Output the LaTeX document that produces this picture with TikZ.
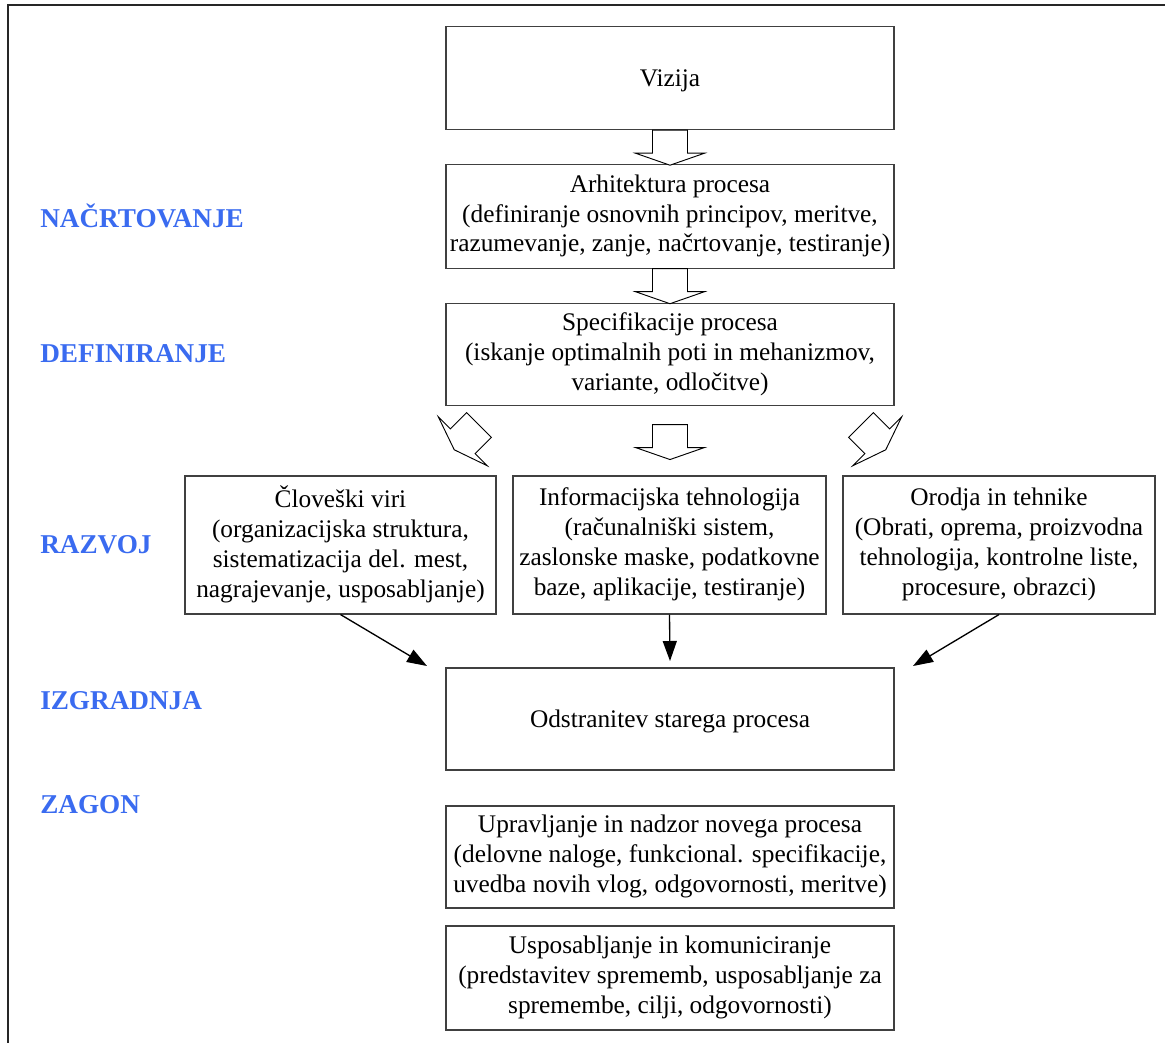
\documentclass[tikz,border=0pt]{standalone}
\usepackage{fontspec}
\setmainfont{Liberation Serif}
\usetikzlibrary{calc,arrows.meta}
\definecolor{phaseblue}{HTML}{3A6BF0}
\begin{document}
\begin{tikzpicture}[x=0.75pt,y=-0.75pt,
  box/.style={draw=black!75,line width=0.8pt,inner sep=0pt,align=center,
    font=\fontsize{19}{22.4}\selectfont,
    % even line boxes, so the text block sits centred like a word processor would
    execute at begin node={\rule{0pt}{17.5pt}},
    execute at end node={\rule[-4.9pt]{0pt}{4.9pt}}},
  wide/.style={box,minimum width=336pt},
  narrow/.style={box,minimum width=234pt,minimum height=103.5pt},
  phase/.style={anchor=west,inner sep=0pt,text=phaseblue,
    font=\fontsize{20.4}{24}\selectfont\bfseries},
  thin/.style={line width=1pt,-{Triangle[length=15pt,width=10.5pt]}},
  hollow/.style={draw=black,line width=0.7pt,fill=white,line join=miter},
  % block arrow pointing down, origin at the middle of its tail
  downarr/.pic={\draw[hollow] (-17.5,0) -- (17.5,0) -- (17.5,23) -- (34.5,23)
      -- (0,35) -- (-34.5,23) -- (-17.5,23) -- cycle;},
  % the same arrow turned to point down-left
  leftarr/.pic={\draw[hollow] (-12.37,-12.37) -- (12.37,12.37) -- (-3.89,28.64)
      -- (8.13,40.66) -- (-24.75,24.75) -- (-40.66,-8.13) -- (-28.64,3.89) -- cycle;},
  % and turned to point down-right
  rightarr/.pic={\draw[hollow] (12.37,-12.37) -- (-12.37,12.37) -- (3.89,28.64)
      -- (-8.13,40.66) -- (24.75,24.75) -- (40.66,-8.13) -- (28.64,3.89) -- cycle;}]
\useasboundingbox (0,0) rectangle (1165,1043);
% frame
\draw[line width=1.2pt,black!85] (8,1043) -- (8,5) -- (1165,5);

% main column
\node[wide,minimum height=77.5pt] (viz) at (670,78) {Vizija};
\node[wide,minimum height=77.5pt] (arh) at (670,216.5)
  {Arhitektura procesa\\(definiranje osnovnih principov, meritve,\\razumevanje, zanje, načrtovanje, testiranje)};
\node[wide,minimum height=76.5pt] (spec) at (670,354.5)
  {Specifikacije procesa\\(iskanje optimalnih poti in mehanizmov,\\variante, odločitve)};

% three development areas
\node[narrow,minimum width=233.25pt] (clov) at (340.5,545)
  {Človeški viri\\(organizacijska struktura,\\sistematizacija del. mest,\\nagrajevanje, usposabljanje)};
\node[narrow,minimum width=234.75pt] (info) at (669.5,545)
  {Informacijska tehnologija\\(računalniški sistem,\\zaslonske maske, podatkovne\\baze, aplikacije, testiranje)};
\node[narrow] (orod) at (999,545)
  {Orodja in tehnike\\(Obrati, oprema, proizvodna\\tehnologija, kontrolne liste,\\procesure, obrazci)};

\node[wide,minimum height=76.5pt] (odst) at (670,719) {Odstranitev starega procesa};
\node[wide,minimum height=76.5pt] (upr) at (670,857)
  {Upravljanje in nadzor novega procesa\\(delovne naloge, funkcional. specifikacije,\\uvedba novih vlog, odgovornosti, meritve)};
\node[wide,minimum height=78pt] (usp) at (670,978)
  {Usposabljanje in komuniciranje\\(predstavitev sprememb, usposabljanje za\\spremembe, cilji, odgovornosti)};

% phase labels
\node[phase] (p1) at (40,216) {NAČRTOVANJE};
\node[phase] (p2) at (40,354) {DEFINIRANJE};
\node[phase] (p3) at (40,545) {RAZVOJ};
\node[phase] (p4) at (40,701) {IZGRADNJA};
\node[phase] (p5) at (40,805) {ZAGON};

% hollow block arrows
\coordinate (bm) at ($(spec.south)+(0,18.5)$);
\coordinate (bl) at ($(spec.south)+(-191,19)$);
\coordinate (br) at ($(spec.south)+(191,19)$);
\pic at (viz.south) {downarr};
\pic at (arh.south) {downarr};
\pic at (bm) {downarr};
\pic at (bl) {leftarr};
\pic at (br) {rightarr};

% converging arrows
\coordinate (t1) at (427,666);
\coordinate (t2) at (670,661);
\coordinate (t3) at (913,666);
\draw[thin] (clov.south) -- (t1);
\draw[thin] (info.south) -- (t2);
\draw[thin] (orod.south) -- (t3);
\end{tikzpicture}
\end{document}
